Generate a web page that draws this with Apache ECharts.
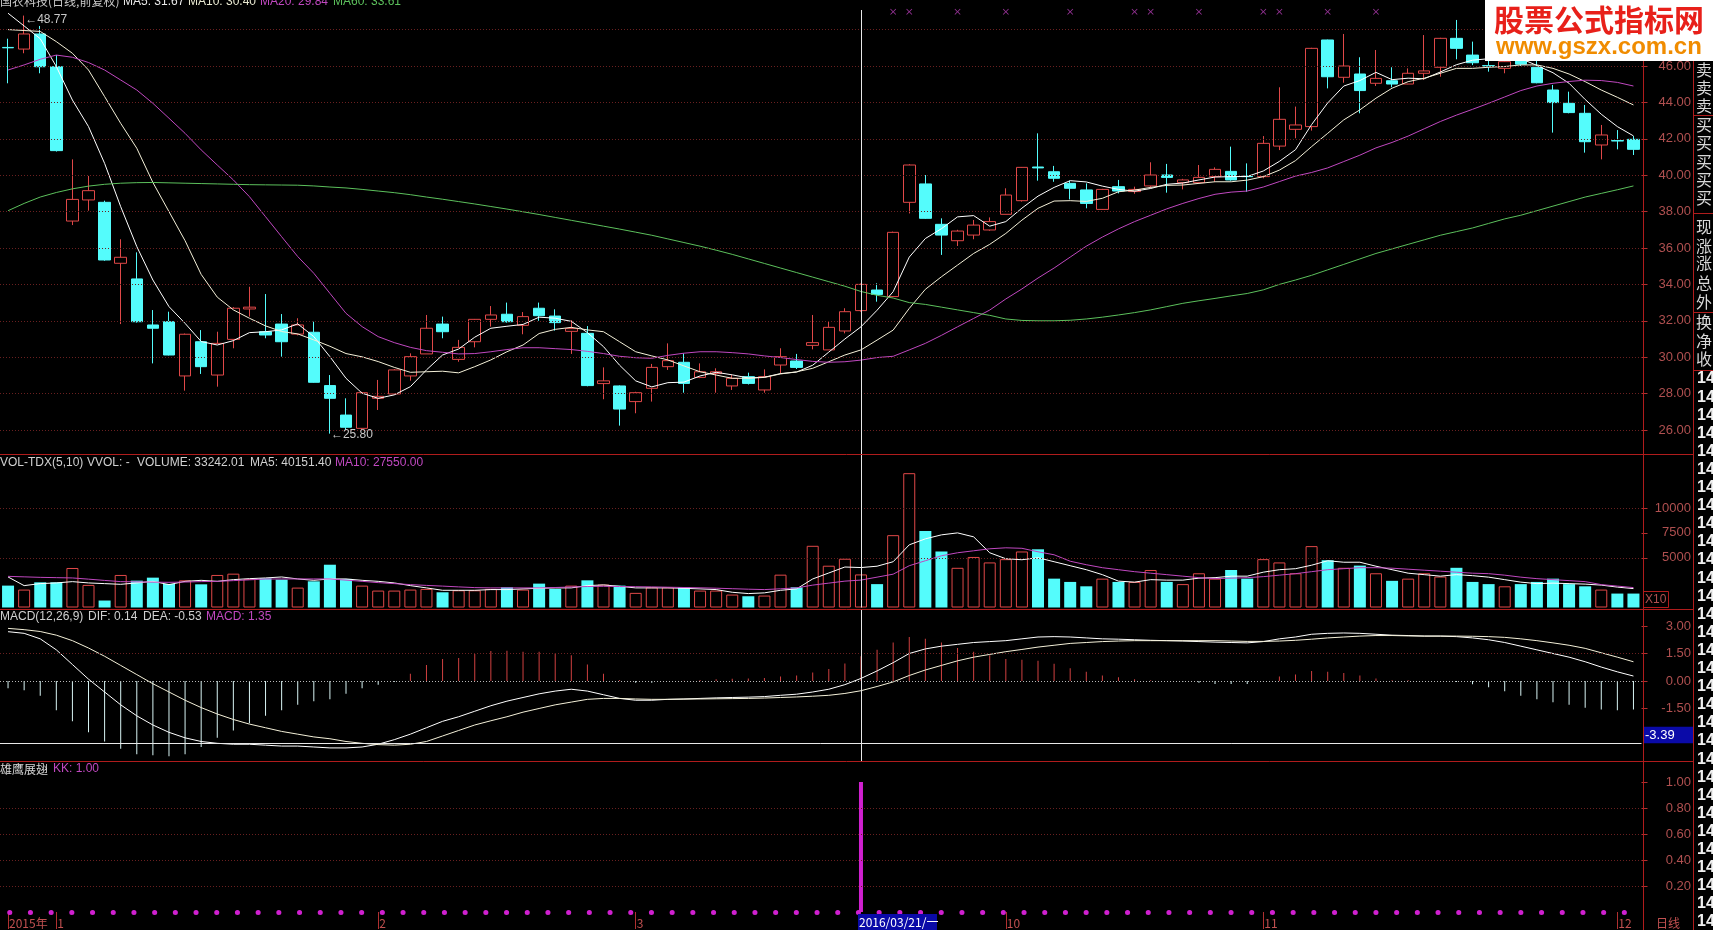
<!DOCTYPE html>
<html><head><meta charset="utf-8">
<script src="https://cdn.jsdelivr.net/npm/echarts@6/dist/echarts.min.js"></script>
<style>html,body{margin:0;padding:0;background:#000;overflow:hidden}#c{width:1713px;height:930px}</style>
</head><body><div id="c"></div><script>
// ---------- DATA ----------
// [open, close, low, high]
const ohlc = [
[47.02,47.00,45.05,47.50],[46.93,47.76,46.70,48.77],[47.76,45.96,45.60,48.20],[45.96,41.35,41.30,46.60],
[37.48,38.67,37.26,40.87],[38.64,39.15,38.05,39.96],[38.51,35.34,35.30,38.60],[35.16,35.49,31.82,36.48],
[34.30,31.95,31.90,35.76],[31.77,31.59,29.66,32.59],[31.95,30.12,30.10,32.50],[28.97,31.26,28.16,31.30],
[30.85,29.48,29.08,31.49],[29.02,30.76,28.38,31.40],[30.98,32.69,30.49,32.75],[32.65,32.75,32.23,33.87],
[31.40,31.22,31.04,33.47],[31.82,30.85,30.03,32.37],[31.27,31.77,31.20,32.14],[31.37,28.62,28.60,31.95],
[28.44,27.74,25.80,29.02],[26.82,26.15,25.98,27.74],[26.09,28.05,26.00,28.10],[27.74,27.85,27.10,28.75],
[27.98,29.30,27.95,29.35],[28.97,30.03,28.71,30.21],[30.18,31.59,30.18,32.32],[31.82,31.40,31.04,32.23],
[29.88,30.54,29.75,30.95],[30.85,32.08,30.54,32.10],[32.08,32.32,31.68,32.81],[32.36,31.95,31.90,33.00],
[31.75,32.23,31.26,32.48],[32.69,32.28,32.00,33.00],[32.26,31.90,31.46,32.63],[31.42,31.57,30.18,32.04],
[31.31,28.44,28.40,31.71],[28.55,28.70,27.69,29.44],[28.42,27.15,26.24,28.45],[27.56,28.05,26.92,28.10],
[28.29,29.44,27.56,29.63],[29.48,29.81,29.30,30.76],[29.72,28.56,28.05,30.21],[28.89,29.20,28.85,29.66],
[29.10,29.20,28.05,29.39],[28.42,28.84,28.20,29.02],[28.93,28.56,28.50,29.15],[28.20,28.93,28.05,29.33],
[29.57,30.03,29.08,30.49],[29.79,29.44,29.35,30.18],[30.65,30.80,30.43,32.32],[30.40,31.64,30.40,31.95],
[31.44,32.50,31.31,32.69],[32.56,34.00,32.50,34.05],[33.69,33.45,33.05,34.06],[33.33,36.86,33.30,36.90],
[38.51,40.56,37.90,40.60],[39.52,37.63,37.60,40.01],[37.30,36.71,35.62,37.63],[36.40,36.93,36.11,37.00],
[36.71,37.26,36.48,37.54],[36.99,37.45,36.95,37.68],[37.85,38.91,37.85,39.28],[38.60,40.43,38.55,40.45],
[40.45,40.40,39.70,42.30],[40.19,39.83,39.64,40.51],[39.55,39.28,38.67,39.70],[39.19,38.45,38.18,39.55],
[38.12,39.22,38.10,39.25],[39.37,39.13,39.00,39.74],[39.10,39.22,38.98,39.37],[39.41,40.01,39.28,40.71],
[40.01,39.88,39.04,40.62],[39.59,39.74,39.22,39.80],[39.59,39.88,39.55,40.56],[39.92,40.32,39.64,40.43],
[40.21,39.74,39.70,41.57],[39.95,39.92,39.09,40.65],[39.92,41.75,39.83,42.15],[41.60,43.07,41.38,44.83],
[42.52,42.76,42.03,43.77],[42.67,46.97,42.45,47.00],[47.43,45.41,44.77,47.45],[45.38,46.00,45.08,47.76],
[45.56,44.65,43.40,46.48],[45.05,45.32,44.90,46.88],[45.19,45.01,44.83,45.93],[45.01,45.60,45.00,45.87],
[45.60,45.73,45.23,47.70],[45.93,47.52,45.41,47.55],[47.52,46.97,46.37,48.53],[46.60,46.18,46.05,47.34],
[46.02,46.00,45.69,46.33],[45.87,46.24,45.60,46.60],[46.60,46.10,46.00,46.80],[45.93,45.08,45.05,46.33],
[44.68,43.99,42.34,44.96],[43.95,43.44,43.40,44.59],[43.40,41.84,41.24,43.86],[41.66,42.21,40.87,42.76],
[41.90,41.88,41.42,42.48],[41.97,41.42,41.11,42.15]
];
const ma5 = [48.9,48.2,47.5,45.97,44.13,42.67,40.65,38.27,36.08,34.24,32.78,31.86,30.86,30.67,30.91,31.35,31.4,31.5,31.83,31.13,30.03,28.84,28.02,27.74,27.93,28.38,29.3,30.12,
30.45,31.1,31.59,31.7,31.8,32.2,32.14,31.97,31.35,30.58,29.56,28.7,28.37,28.6,28.63,28.97,29.17,29.03,28.86,28.9,29.1,29.18,29.56,30.28,31.0,31.67,32.58,
33.6,35.5,36.52,37.06,37.71,37.78,37.2,37.45,38.19,38.85,39.33,39.7,39.63,39.4,39.22,39.12,39.27,39.5,39.57,39.74,39.9,39.92,39.93,40.23,40.76,41.4,
42.78,43.97,44.9,45.2,45.65,45.25,45.33,45.3,45.67,46.07,46.32,46.4,46.5,46.41,46.03,45.63,45.05,44.16,43.35,42.67,42.16];
const ma10 = [48.0,47.95,47.9,47.34,46.7,45.78,44.32,42.85,41.48,39.6,38.0,36.4,34.55,33.3,32.6,32.14,31.72,31.41,31.28,30.95,30.6,30.2,30.02,29.76,29.44,29.17,29.2,29.23,
29.14,29.48,29.85,30.3,30.67,31.3,31.53,31.64,31.5,31.4,30.85,30.3,30.07,29.85,29.52,29.2,29.02,28.84,28.84,28.89,29.08,29.2,29.39,29.75,30.12,30.40,30.94,
31.49,32.68,33.73,34.42,35.06,35.7,36.2,36.8,37.53,38.18,38.58,38.6,38.56,38.73,39.09,39.18,39.33,39.44,39.46,39.55,39.64,39.64,39.73,39.92,40.28,40.8,
41.57,42.3,43.04,43.59,44.23,44.78,45.14,45.33,45.6,45.87,45.87,45.93,45.97,46.06,46.06,45.87,45.56,45.14,44.68,44.28,43.86];
const ma20 = [45.78,46.06,46.37,46.6,46.48,46.19,45.78,45.23,44.68,43.95,43.13,42.3,41.39,40.56,39.74,38.82,37.72,36.62,35.53,34.61,33.51,32.41,31.68,31.13,30.8,30.54,30.36,30.27,
30.18,30.2,30.3,30.42,30.52,30.52,30.47,30.42,30.32,30.2,30.05,29.97,29.94,30.1,30.22,30.3,30.3,30.25,30.18,30.07,29.98,29.87,29.77,29.72,29.75,29.84,29.98,
30.05,30.4,30.76,31.2,31.67,32.13,32.59,33.2,33.75,34.35,34.9,35.5,36.1,36.6,37.05,37.45,37.8,38.15,38.45,38.72,38.95,39.07,39.13,39.35,39.65,39.95,
40.15,40.4,40.75,41.1,41.5,41.8,42.15,42.55,42.95,43.3,43.62,43.95,44.3,44.65,44.9,45.05,45.15,45.22,45.2,45.1,44.9];
const ma60 = [38.05,38.45,38.8,39.05,39.25,39.4,39.5,39.56,39.59,39.6,39.58,39.56,39.54,39.52,39.5,39.48,39.47,39.46,39.45,39.41,39.35,39.3,39.22,39.13,39.04,38.93,38.8,38.68,
38.55,38.42,38.28,38.14,37.99,37.84,37.68,37.52,37.36,37.2,37.04,36.87,36.7,36.5,36.3,36.1,35.88,35.65,35.4,35.15,34.9,34.65,34.4,34.15,33.9,33.61,33.4,
33.25,33.0,32.9,32.75,32.6,32.45,32.3,32.1,32.02,32.0,32.0,32.03,32.1,32.2,32.32,32.45,32.6,32.78,32.96,33.1,33.23,33.37,33.5,33.7,34.0,34.24,
34.5,34.8,35.1,35.4,35.7,35.95,36.2,36.45,36.7,36.9,37.1,37.35,37.6,37.8,38.05,38.3,38.55,38.8,39.0,39.2,39.41];
// volume (axis units, x10)
const volume = [2200,1800,2530,2530,3970,2270,700,3270,2700,3000,2370,2730,2330,3270,3400,2870,2930,2800,2000,2630,
4300,2870,2200,1700,1700,1800,1870,1530,1730,1730,1870,2030,1800,2400,1870,2200,2730,2300,2200,1470,
2030,2030,2030,1700,1700,1300,1130,1200,3300,2030,6200,4200,4900,3324,
2350,7270,13500,7700,5630,3990,5080,4530,4860,5630,5850,2900,2570,2130,2900,2570,2570,3770,2570,2350,3440,2900,3770,2900,
4860,4530,3440,6170,4750,3990,4210,3440,2680,2900,3440,3110,3990,2570,2350,2130,2350,2570,2900,2350,2130,1800,1400,1400];
const volMa5 = [3070,2200,2400,2470,2600,2470,2400,2330,2470,2630,2300,2630,2730,2630,2800,2900,2970,3070,2870,2730,
2870,2870,2730,2630,2470,2200,1970,1730,1730,1730,1800,1800,1870,1930,1970,1970,2200,2270,2130,1970,
1970,1970,1930,1870,1800,1530,1400,1470,1730,1870,2870,3470,4070,4015,
4150,4600,6300,6900,7300,7500,7100,5500,4900,4800,5000,4600,4200,3800,3300,2650,2550,2800,2750,2750,2950,3000,3150,3150,
3550,3800,3900,4250,4700,4550,4550,4150,3800,3450,3300,3150,3300,3200,3050,2800,2550,2400,2450,2400,2350,2250,2050,1900];
const volMa10 = [3130,3080,3030,3000,2970,2850,2720,2600,2580,2550,2530,2560,2600,2630,2700,2780,2860,2870,2870,2870,
2870,2750,2630,2500,2400,2300,2220,2150,2070,2000,1970,1970,1970,1970,2010,2060,2110,2130,2110,2090,
2070,2040,2010,1980,1940,1890,1840,1800,1880,1970,2250,2450,2650,2755,
3050,3350,4200,4700,5200,5500,5700,5900,6000,5950,5600,5300,4650,4300,4000,3800,3600,3450,3300,3150,3000,2900,2950,3000,
3100,3250,3400,3600,3800,3900,4000,4000,3950,3850,3750,3650,3550,3450,3400,3250,3050,2900,2800,2700,2600,2300,2150,2000];
const dif = [2.69,2.6,2.3,1.7,0.9,0.1,-0.6,-1.3,-1.9,-2.4,-2.8,-3.1,-3.3,-3.4,-3.45,-3.45,-3.5,-3.55,-3.55,-3.6,-3.65,-3.65,-3.6,-3.45,-3.2,-2.9,-2.55,-2.2,
-1.95,-1.65,-1.35,-1.1,-0.9,-0.7,-0.55,-0.45,-0.55,-0.75,-0.95,-1.05,-1.05,-1.0,-0.98,-0.95,-0.92,-0.9,-0.88,-0.85,-0.78,-0.72,-0.6,-0.45,-0.2,0.14,0.55,
1.0,1.5,1.75,1.9,2.0,2.1,2.15,2.2,2.3,2.4,2.42,2.4,2.35,2.3,2.28,2.25,2.22,2.2,2.18,2.15,2.12,2.1,2.08,2.15,2.3,2.4,
2.55,2.6,2.62,2.6,2.55,2.5,2.48,2.45,2.45,2.42,2.35,2.25,2.1,1.9,1.7,1.5,1.3,1.05,0.76,0.5,0.27];
const dea = [2.87,2.8,2.7,2.5,2.2,1.8,1.35,0.85,0.35,-0.15,-0.6,-1.05,-1.45,-1.8,-2.1,-2.35,-2.55,-2.75,-2.9,-3.05,-3.15,-3.3,-3.4,-3.47,-3.5,-3.45,-3.3,-3.0,
-2.7,-2.4,-2.17,-1.95,-1.7,-1.5,-1.3,-1.15,-1.0,-0.95,-0.95,-0.98,-1.0,-1.0,-0.99,-0.98,-0.97,-0.96,-0.95,-0.93,-0.9,-0.87,-0.83,-0.78,-0.68,-0.53,-0.3,
-0.05,0.3,0.6,0.85,1.1,1.3,1.45,1.6,1.72,1.85,1.95,2.05,2.1,2.15,2.18,2.2,2.2,2.2,2.2,2.2,2.2,2.18,2.16,2.16,2.18,2.22,
2.28,2.35,2.4,2.45,2.48,2.48,2.46,2.45,2.45,2.45,2.44,2.42,2.38,2.3,2.2,2.08,1.95,1.78,1.54,1.3,1.05];
const macdHist = [-0.4,-0.5,-0.8,-1.6,-2.2,-2.8,-3.3,-3.7,-4.0,-4.05,-4.1,-4.0,-3.6,-3.1,-2.7,-2.3,-1.9,-1.6,-1.3,-1.1,-1.0,-0.7,-0.4,-0.2,-0.05,0.4,0.87,1.2,
1.25,1.47,1.64,1.65,1.6,1.6,1.5,1.4,0.9,0.4,0.05,-0.1,-0.1,0.0,0.02,0.06,0.1,0.12,0.14,0.16,0.24,0.3,0.46,0.66,0.96,1.35,1.7,
2.1,2.4,2.3,2.1,1.8,1.6,1.4,1.2,1.16,1.1,0.94,0.7,0.5,0.3,0.2,0.1,0.04,0.0,-0.04,-0.1,-0.16,-0.16,-0.16,-0.02,0.24,0.36,
0.54,0.5,0.44,0.3,0.14,0.04,0.04,0.0,0.0,-0.06,-0.18,-0.34,-0.56,-0.8,-1.0,-1.16,-1.3,-1.46,-1.56,-1.6,-1.56];
const kk = ohlc.map(() => 0); kk[53] = 1;               // KK signal: only on 2016/03/21
const signalDays = [55,56,59,62,66,70,71,74,78,79,82,85]; // magenta x marks on top row
const xTickLabels = {0:'2015年',3:'1',23:'2',39:'3',62:'10',78:'11',100:'12'};
const priceTicks = [26,28,30,32,34,36,38,40,42,44,46];
const priceGrid = [26,28,30,32,34,36,38,40,42,44,46,48];
const volTicks = [5000,7500,10000];
const volGrid = [5000,10000];
const macdTicks = [-1.5,0,1.5,3];
const kkTicks = [0.2,0.4,0.6,0.8,1.0];
const kkGrid = [0.2,0.4,0.6,0.8];
const crossDay = 53, crossMacd = -3.39;
const highMark = {day:1, value:48.77}, lowMark = {day:20, value:25.80};
const categories = ohlc.map((_, i) => 'D' + i);

// ---------- STYLE ----------
const RED = '#e04848', CYAN = '#54fcfc', AX = '#b05050', BORDER = '#b01c1c', GRIDC = '#6a2020';
const FONT = '"Liberation Sans", Arial, sans-serif', CJK = '"Noto Sans CJK SC", sans-serif';
const G = {left:-1, right:71.5};
const grids = [
  Object.assign({top:10, height:444}, G),
  Object.assign({top:455, height:152.5}, G),
  Object.assign({top:610, height:151}, G),
  Object.assign({top:762, height:150}, G)
];
function xAx(i, show){
  return {type:'category', gridIndex:i, data:categories, boundaryGap:true, show:true,
    axisLine:{show:false}, splitLine:{show:false},
    axisTick: show ? {show:true, alignWithLabel:true, length:17, interval:(k)=>xTickLabels[k]!==undefined, lineStyle:{color:'#b03030'}} : {show:false},
    axisLabel: show ? {show:true, interval:(k)=>xTickLabels[k]!==undefined, formatter:(v,k)=>xTickLabels[k]||'', align:'left', color:'#c05050', fontSize:12, fontFamily:CJK, margin:5, padding:[0,0,0,1]} : {show:false}};
}
function yAx(i, min, max, ticks, fmt){
  return {type:'value', gridIndex:i, position:'right', min, max, scale:true,
    axisLine:{show:false}, splitLine:{show:false},
    axisTick:{show:true, customValues:ticks, length:6, lineStyle:{color:'#b03030'}},
    axisLabel:{show:true, customValues:ticks, formatter:fmt, color:AX, fontSize:13, fontFamily:FONT, align:'right', margin:49.5}};
}
const dotted = (vals, color) => vals.map(v => ({yAxis:v, lineStyle:{color:color||GRIDC, type:[1,2], width:1}}));
const vLine = {xAxis:categories[crossDay], lineStyle:{color:'#e8e8e8', type:'solid', width:1}};
const mk = (data) => ({silent:true, symbol:['none','none'], label:{show:false}, animation:false, data});
const lineS = (name, xi, data, color) => ({name, type:'line', xAxisIndex:xi, yAxisIndex:xi, data, showSymbol:false, symbol:'none', lineStyle:{color, width:1}, silent:true, z:3});

const volData = volume.map((v, i) => {
  const up = ohlc[i][1] >= ohlc[i][0];
  return {value:v, itemStyle: up ? {color:'#000', borderColor:RED, borderWidth:1} : {color:CYAN, borderColor:CYAN, borderWidth:0}};
});
const histData = macdHist.map(v => ({value:v, itemStyle:{color: v >= 0 ? '#d04040' : '#d8f4f4'}}));

const option = {
  backgroundColor:'#000', animation:false,
  grid: grids,
  xAxis:[xAx(0,false), xAx(1,false), xAx(2,false), xAx(3,true)],
  yAxis:[
    yAx(0, 24.681, 49.077, priceTicks, v=>v.toFixed(2)),
    yAx(1, 0, 15327, volTicks, v=>String(v)),
    yAx(2, -4.364, 3.873, macdTicks, v=>v.toFixed(2)),
    yAx(3, 0, 1.1538, kkTicks, v=>v.toFixed(2))
  ],
  series:[
    {type:'candlestick', xAxisIndex:0, yAxisIndex:0, data:ohlc, barWidth:12, silent:true,
      itemStyle:{color:'#000', color0:CYAN, borderColor:RED, borderColor0:CYAN, borderWidth:1},
      markLine: mk(dotted(priceGrid).concat([vLine]))},
    lineS('MA5',0,ma5,'#ffffff'),
    lineS('MA10',0,ma10,'#f4f0d8'),
    lineS('MA20',0,ma20,'#c048c0'),
    lineS('MA60',0,ma60,'#5cc05c'),
    {type:'scatter', xAxisIndex:0, yAxisIndex:0, data:signalDays.map(d=>[categories[d], 48.98]), silent:true,
      symbol:'path://M0,1L1,0L5,4L9,0L10,1L6,5L10,9L9,10L5,6L1,10L0,9L4,5Z', symbolSize:6, itemStyle:{color:'#c040c0'}},
    {type:'bar', xAxisIndex:1, yAxisIndex:1, data:volData, barWidth:12, silent:true,
      markLine: mk(dotted(volGrid).concat([vLine]))},
    lineS('VMA5',1,volMa5,'#ffffff'),
    lineS('VMA10',1,volMa10,'#c048c0'),
    {type:'bar', xAxisIndex:2, yAxisIndex:2, data:histData, barWidth:1, silent:true,
      markLine: mk([{yAxis:0, lineStyle:{color:'#b8b8b8', type:[1,2], width:1}},
                    {yAxis:1.5, lineStyle:{color:GRIDC, type:[1,2], width:1}},
                    vLine,
                    {yAxis:crossMacd, lineStyle:{color:'#e8e8e8', type:'solid', width:1}}])},
    lineS('DIF',2,dif,'#ffffff'),
    lineS('DEA',2,dea,'#f4f0d8'),
    {type:'bar', xAxisIndex:3, yAxisIndex:3, data:kk, barWidth:4, silent:true, itemStyle:{color:'#d020d0'}, z:4,
      markLine: mk(dotted(kkGrid).concat([{yAxis:0, lineStyle:{color:'#d020d0', width:5, type:[0.1,20.6], cap:'round', dashOffset:11}}]))}
  ]
};
const chart = echarts.init(document.getElementById('c'));
chart.setOption(option);

// ---------- decorations ----------
const T = (x, y, text, fill, size, extra) => Object.assign({type:'text', x, y, z:50, silent:true,
  style:Object.assign({text, fill, fontSize:size||12, fontFamily:FONT, align:'left', verticalAlign:'middle'}, extra||{})});
const L = (x1, y1, x2, y2, stroke) => ({type:'line', z:40, silent:true, shape:{x1,y1,x2,y2}, style:{stroke:stroke||BORDER, lineWidth:1}});
const g = [];
// panel borders
g.push(L(0,454.5,1693,454.5), L(0,609.5,1693,609.5), L(0,761.5,1693,761.5));
g.push(L(1643.5,0,1643.5,930), L(1693.5,0,1693.5,930));
[115,213,312,370].forEach(y => g.push(L(1693,y+0.5,1713,y+0.5)));
// X10 box
g.push({type:'rect', z:40, silent:true, shape:{x:1643.5,y:591.5,width:25,height:16}, style:{fill:'none', stroke:BORDER, lineWidth:1}});
g.push(T(1645,600,'X10',AX,12));
// headers (top row is partly cut off by the window edge)
g.push(T(0,7,'国农科技(日线,前复权)','#c8c8c8',12,{fontFamily:CJK, verticalAlign:'bottom'}));
g.push(T(123,8,'MA5: 31.67','#e8e8e8',12,{verticalAlign:'bottom'}));
g.push(T(188,8,'MA10: 30.40','#e8e8d0',12,{verticalAlign:'bottom'}));
g.push(T(260,8,'MA20: 29.84','#c048c0',12,{verticalAlign:'bottom'}));
g.push(T(333,8,'MA60: 33.61','#5cc05c',12,{verticalAlign:'bottom'}));
g.push(T(0,463,'VOL-TDX(5,10)','#d0d0d0',12));
g.push(T(87,463,'VVOL: -','#d0d0d0',12));
g.push(T(137,463,'VOLUME: 33242.01','#d0d0d0',12));
g.push(T(250,463,'MA5: 40151.40','#d0d0d0',12));
g.push(T(335,463,'MA10: 27550.00','#c048c0',12));
g.push(T(0,617,'MACD(12,26,9)','#d0d0d0',12));
g.push(T(88,617,'DIF: 0.14','#d0d0d0',12));
g.push(T(143,617,'DEA: -0.53','#d0d0d0',12));
g.push(T(206,617,'MACD: 1.35','#c048c0',12));
g.push(T(0,769,'雄鹰展翅','#d8d8d8',12,{fontFamily:CJK}));
g.push(T(53,769,'KK: 1.00','#c048c0',12));
g.push(T(1656,923,'日线','#c05050',12,{fontFamily:CJK}));
// right side column
const sideChars = '卖卖卖买买买买买现涨涨总外换净收'.split('');
const sideY = [70,88,106,125,143,162,180,198,227,246,263,283,302,322,341,359];
sideChars.forEach((c, k) => g.push(T(1696, sideY[k], c, '#d8d8d8', 16, {fontFamily:CJK})));
for (let k = 0; k < 31; k++) g.push(T(1697, 379 + k*18.1, '14', '#f0f0f0', 16, {fontWeight:'bold'}));
// watermark
g.push({type:'rect', z:60, silent:true, shape:{x:1485,y:0,width:228,height:61}, style:{fill:'#ffffff'}});
const w1 = T(1494,20,'股票公式指标网','#e8201a',30,{fontFamily:CJK, fontWeight:'bold'}); w1.z = 61; g.push(w1);
const w2 = T(1496,47,'www.gszx.com.cn','#f08c00',24,{fontWeight:'bold'}); w2.z = 61; g.push(w2);
// data-anchored labels
const P = (gi, d, v) => chart.convertToPixel({gridIndex:gi}, [categories[d], v]);
const hp = P(0, highMark.day, highMark.value);
g.push(T(hp[0]+1, hp[1]+4, '←' + highMark.value.toFixed(2), '#c8c8c8', 12));
const lp = P(0, lowMark.day, lowMark.value);
g.push(T(lp[0]+1, lp[1]+1.5, '←' + lowMark.value.toFixed(2), '#c8c8c8', 12));
const mp = P(2, crossDay, crossMacd);
g.push({type:'rect', z:55, silent:true, shape:{x:1644,y:mp[1]-16.5,width:49,height:16.5}, style:{fill:'#0a0aa8'}});
const mt = T(1645, mp[1]-8, crossMacd.toFixed(2), '#ffffff', 13); mt.z = 56; g.push(mt);
const dp = P(3, crossDay, 0);
g.push({type:'rect', z:55, silent:true, shape:{x:dp[0]-3,y:914,width:79,height:16}, style:{fill:'#0a0aa8'}});
const dt = T(dp[0]-2, 922.5, '2016/03/21/一', '#ffffff', 12, {fontFamily:CJK}); dt.z = 56; g.push(dt);
chart.setOption({graphic: g});
</script></body></html>
